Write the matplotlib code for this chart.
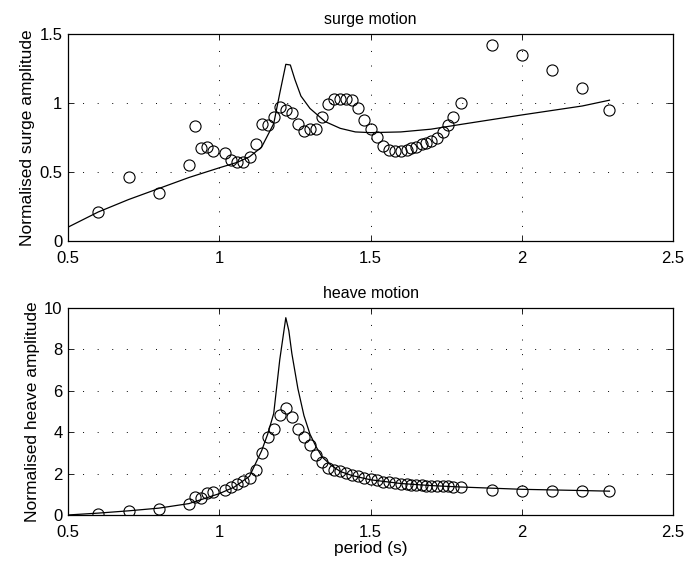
import matplotlib
matplotlib.use('Agg')
import matplotlib.pyplot as plt
from matplotlib.ticker import FuncFormatter

# measured periods (s)
period = [0.60, 0.70, 0.80, 0.90, 0.92, 0.94, 0.96, 0.98, 1.02, 1.04, 1.06, 1.08,
          1.10, 1.12, 1.14, 1.16, 1.18, 1.20, 1.22, 1.24, 1.26, 1.28, 1.30, 1.32,
          1.34, 1.36, 1.38, 1.40, 1.42, 1.44, 1.46, 1.48, 1.50, 1.52, 1.54, 1.56,
          1.58, 1.60, 1.62, 1.635, 1.65, 1.67, 1.685, 1.70, 1.72, 1.74, 1.757,
          1.774, 1.80, 1.90, 2.00, 2.10, 2.20, 2.29]

surge_meas = [0.21, 0.46, 0.35, 0.55, 0.83, 0.67, 0.68, 0.65, 0.64, 0.59, 0.57, 0.57,
              0.61, 0.70, 0.85, 0.84, 0.90, 0.97, 0.95, 0.93, 0.85, 0.80, 0.81, 0.81,
              0.90, 0.99, 1.03, 1.03, 1.03, 1.02, 0.96, 0.88, 0.81, 0.75, 0.69, 0.66,
              0.655, 0.652, 0.66, 0.67, 0.68, 0.70, 0.71, 0.725, 0.745, 0.79, 0.84,
              0.90, 1.00, 1.42, 1.35, 1.24, 1.11, 0.95]

heave_meas = [0.06, 0.19, 0.31, 0.52, 0.87, 0.82, 1.06, 1.10, 1.23, 1.35, 1.48, 1.63,
              1.79, 2.19, 2.97, 3.77, 4.16, 4.82, 5.15, 4.73, 4.15, 3.77, 3.37, 2.92,
              2.55, 2.27, 2.16, 2.11, 2.03, 1.95, 1.89, 1.81, 1.74, 1.68, 1.61, 1.57,
              1.53, 1.50, 1.48, 1.46, 1.44, 1.43, 1.42, 1.41, 1.40, 1.39, 1.38,
              1.37, 1.34, 1.23, 1.18, 1.18, 1.18, 1.15]

# theory curves
surge_T = [0.50, 0.60, 0.70, 0.80, 0.90, 1.00, 1.06, 1.10, 1.14, 1.18, 1.20, 1.22,
           1.235, 1.25, 1.27, 1.30, 1.35, 1.40, 1.45, 1.50, 1.60, 1.70, 1.80, 2.00,
           2.20, 2.29]
surge_theory = [0.10, 0.21, 0.30, 0.38, 0.46, 0.53, 0.57, 0.61, 0.68, 0.85, 1.07, 1.28,
                1.275, 1.17, 1.05, 0.96, 0.865, 0.816, 0.79, 0.785, 0.79, 0.81, 0.845,
                0.913, 0.978, 1.02]

heave_T = [0.50, 0.60, 0.70, 0.80, 0.90, 1.00, 1.05, 1.10, 1.14, 1.16, 1.18, 1.20,
           1.22, 1.23, 1.24, 1.26, 1.28, 1.30, 1.32, 1.34, 1.37, 1.40, 1.44, 1.50,
           1.60, 1.70, 1.80, 2.00, 2.20, 2.29]
heave_theory = [0.0, 0.09, 0.20, 0.33, 0.55, 1.03, 1.35, 1.87, 3.1, 3.9, 4.9, 7.5,
                9.53, 8.9, 7.8, 6.1, 4.8, 3.9, 3.3, 2.8, 2.4, 2.1, 1.9, 1.7,
                1.52, 1.42, 1.35, 1.24, 1.18, 1.15]

xticks = [0.5, 1, 1.5, 2, 2.5]

plt.rcParams['font.family'] = ['Liberation Sans', 'DejaVu Sans']
plt.rcParams['font.size'] = 12

fig = plt.figure(figsize=(6.99, 5.63), dpi=100)
ax1 = fig.add_axes([0.0973, 0.572, 0.8655, 0.3677])
ax2 = fig.add_axes([0.0973, 0.0853, 0.8655, 0.3677])

fmt = FuncFormatter(lambda v, p: ('%g' % v))


def style(ax, yticks, ylim):
    ax.set_xlim(0.5, 2.5)
    ax.set_ylim(*ylim)
    ax.set_xticks(xticks)
    ax.set_yticks(yticks)
    ax.xaxis.set_major_formatter(fmt)
    ax.yaxis.set_major_formatter(fmt)
    ax.tick_params(direction='in', top=True, right=True, length=4, width=0.6,
                   labelsize=12)
    ax.tick_params(axis='x', pad=7)
    ax.tick_params(axis='y', pad=4)
    ax.grid(True, color='black', linestyle=(0, (1, 14)), linewidth=0.7)
    for s in ax.spines.values():
        s.set_linewidth(0.9)


ax1.plot(surge_T, surge_theory, color='black', linewidth=0.9)
ax1.plot(period, surge_meas, 'o', mfc='none', mec='black', markersize=8, mew=0.8)
style(ax1, [0, 0.5, 1, 1.5], (0, 1.5))
ax1.set_title('surge motion', fontsize=11.5, pad=7)
ax1.set_ylabel('Normalised surge amplitude', fontsize=12.5, labelpad=3)

ax2.plot(heave_T, heave_theory, color='black', linewidth=0.9)
ax2.plot(period, heave_meas, 'o', mfc='none', mec='black', markersize=8, mew=0.8)
style(ax2, [0, 2, 4, 6, 8, 10], (0, 10))
ax2.set_title('heave motion', fontsize=11.5, pad=7)
ax2.set_ylabel('Normalised heave amplitude', fontsize=12.5, labelpad=3)
ax2.set_xlabel('period (s)', fontsize=12.5, labelpad=1)

fig.savefig('out.png', dpi=100)
